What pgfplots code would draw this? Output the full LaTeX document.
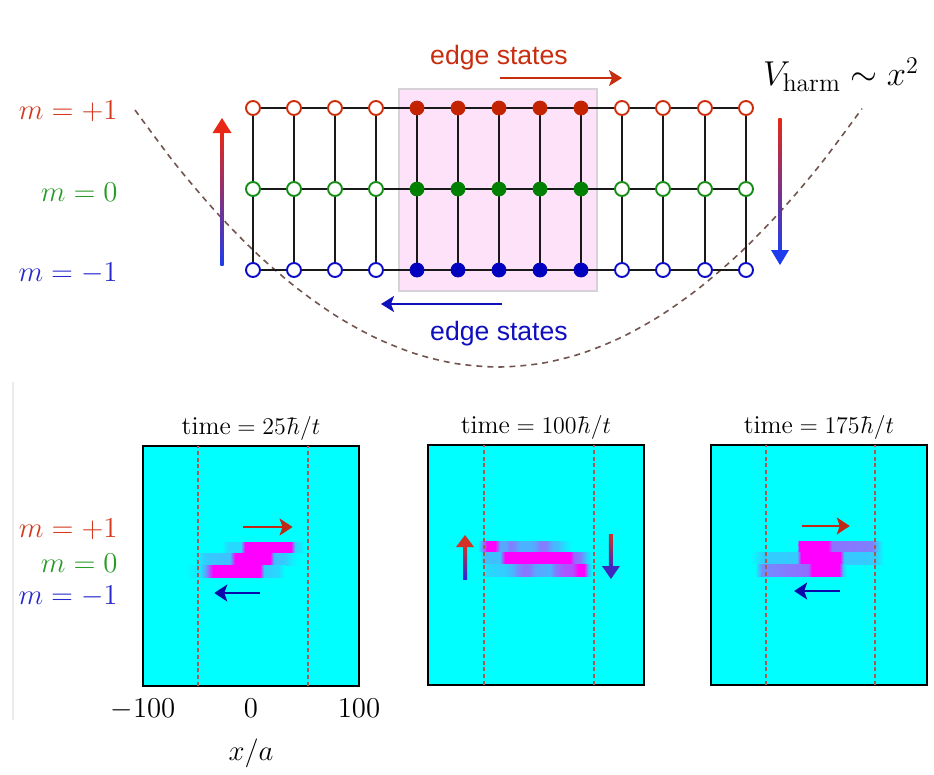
\documentclass[border=0pt]{standalone}
\usepackage{fontspec}
\usepackage{pgfplots}
\pgfplotsset{compat=1.18}
\usetikzlibrary{arrows.meta}
\newfontfamily\edgefont{Liberation Sans}
\newcommand\fs[1]{\fontsize{#1}{#1}\selectfont}

\definecolor{mred}{RGB}{212,58,32}
\definecolor{mgreen}{RGB}{40,155,40}
\definecolor{mblue}{RGB}{40,40,205}
\definecolor{sitered}{RGB}{205,45,10}
\definecolor{sitegreen}{RGB}{20,140,20}
\definecolor{siteblue}{RGB}{10,10,200}
\definecolor{fillred}{RGB}{195,35,0}
\definecolor{fillgreen}{RGB}{0,128,0}
\definecolor{fillblue}{RGB}{0,0,190}
\definecolor{boxpink}{RGB}{254,226,250}
\definecolor{boxedge}{RGB}{215,210,215}
\definecolor{latline}{RGB}{25,25,25}
\definecolor{potbrown}{RGB}{115,85,80}
\definecolor{arrred}{RGB}{232,40,20}
\definecolor{arrblue}{RGB}{30,60,235}
\definecolor{edgered}{RGB}{200,45,15}
\definecolor{edgeblue}{RGB}{15,15,190}
\definecolor{sepdash}{RGB}{170,90,80}
\definecolor{aqua}{RGB}{0,255,255}
\definecolor{pred}{RGB}{190,40,20}
\definecolor{pblue}{RGB}{10,10,170}
\definecolor{uparrred}{RGB}{210,50,40}
\definecolor{uparrblue}{RGB}{40,40,220}
\definecolor{dnarrblue}{RGB}{60,40,190}

\pgfplotsset{
  panel/.style={
    anchor=north west, scale only axis, width=108pt, height=120pt,
    xmin=-100, xmax=100, ymin=-127, ymax=113,
    axis background/.style={fill=aqua},
    axis line style={line width=1.1pt, black},
    xtick=\empty, ytick=\empty,
    title style={font=\fs{12.9}, yshift=-7pt},
    colormap={cool}{rgb255=(0,255,255) rgb255=(255,0,255)},
    point meta min=0, point meta max=1,
  },
  heat/.style={surf, shader=interp, mesh/rows=2, point meta=explicit},
  sep/.style={sepdash, line width=1pt, dash pattern=on 2pt off 1.4pt},
  lattice/.style={latline, line width=1pt, unbounded coords=jump},
  opensite/.style={only marks, mark=*, mark size=3.5pt,
    mark options={fill=white, draw=#1, line width=0.95pt}},
  fullsite/.style={only marks, mark=*, mark size=3.5pt,
    mark options={fill=#1, draw=#1}},
}

\begin{document}
\begin{tikzpicture}
\path (0pt,0pt) rectangle (467pt,-380.5pt);

% ---------------- lattice with harmonic trap ----------------
\begin{axis}[at={(0pt,0pt)}, anchor=north west, scale only axis,
  width=467pt, height=195pt, xmin=0, xmax=934, ymin=0, ymax=390,
  y dir=reverse, hide axis, clip=false]

\addplot[potbrown, line width=0.8pt, dash pattern=on 3pt off 2.5pt, smooth]
  coordinates {(135,110) (175,163.6) (215,210.8) (255,251.9) (295,286.6)
  (335,315.2) (375,337.5) (415,353.6) (455,363.4) (498,367) (541,363.4)
  (581,353.6) (621,337.5) (661,315.2) (701,286.6) (741,251.9) (781,210.8)
  (821,163.6) (862,108.6)};

\fill[boxpink, draw=boxedge, line width=0.6pt] (axis cs:399,89) rectangle (axis cs:597,291);

\addplot[lattice] coordinates {(253,108) (746,108) (nan,nan)
  (253,189) (746,189) (nan,nan) (253,270) (746,270)};
\addplot[lattice] coordinates {(253,108) (253,270) (nan,nan)
  (294,108) (294,270) (nan,nan) (335,108) (335,270) (nan,nan)
  (376,108) (376,270) (nan,nan) (417,108) (417,270) (nan,nan)
  (458,108) (458,270) (nan,nan) (499,108) (499,270) (nan,nan)
  (540,108) (540,270) (nan,nan) (581,108) (581,270) (nan,nan)
  (622,108) (622,270) (nan,nan) (663,108) (663,270) (nan,nan)
  (705,108) (705,270) (nan,nan) (746,108) (746,270)};

\addplot[opensite=sitered] coordinates {(253,108) (294,108) (335,108) (376,108)
  (622,108) (663,108) (705,108) (746,108)};
\addplot[fullsite=fillred] coordinates {(417,108) (458,108) (499,108) (540,108) (581,108)};
\addplot[opensite=sitegreen] coordinates {(253,189) (294,189) (335,189) (376,189)
  (622,189) (663,189) (705,189) (746,189)};
\addplot[fullsite=fillgreen] coordinates {(417,189) (458,189) (499,189) (540,189) (581,189)};
\addplot[opensite=siteblue] coordinates {(253,270) (294,270) (335,270) (376,270)
  (622,270) (663,270) (705,270) (746,270)};
\addplot[fullsite=fillblue] coordinates {(417,270) (458,270) (499,270) (540,270) (581,270)};

\node[anchor=east, inner sep=0pt, text=mred, font=\fs{14}] at (axis cs:118,111) {$m=+1$};
\node[anchor=east, inner sep=0pt, text=mgreen, font=\fs{14}] at (axis cs:118,192) {$m=0$};
\node[anchor=east, inner sep=0pt, text=mblue, font=\fs{14}] at (axis cs:118,273) {$m=-1$};

\node[text=edgered, font=\edgefont\fs{13.3}] at (axis cs:499,58) {edge states};
\draw[edgered, line width=1pt, -{Stealth[length=6.5pt,width=8pt,inset=1.5pt]}]
  (axis cs:500,78) -- (axis cs:622,78);
\node[text=edgeblue, font=\edgefont\fs{13.3}] at (axis cs:499,334) {edge states};
\draw[edgeblue, line width=1pt, -{Stealth[length=6.5pt,width=8pt,inset=1.5pt]}]
  (axis cs:502,304) -- (axis cs:381,304);

\node[font=\fs{18.3}] at (axis cs:841,75) {$V_{\mathrm{harm}}\sim x^2$};

% spin-flip arrows at the two ends of the trap
\shade[top color=arrred, bottom color=arrblue]
  (axis cs:220.3,131) rectangle (axis cs:223.7,265);
\fill[arrred] (axis cs:212.5,133) -- (axis cs:231.5,133) -- (axis cs:222,118) -- cycle;
\shade[top color=arrred, bottom color=arrblue]
  (axis cs:778.3,118) rectangle (axis cs:781.7,252);
\fill[arrblue] (axis cs:771,250) -- (axis cs:789,250) -- (axis cs:780,265) -- cycle;
\end{axis}

\draw[black!8, line width=0.6pt] (6.5pt,-191pt) -- (6.5pt,-360pt);

% ---------------- time evolution panels ----------------
\begin{axis}[panel, at={(71.5pt,-223pt)},
  title={$\mathrm{time}=25\hbar/t$},
  xtick={-100,0,100}, major tick length=0pt,
  tick label style={font=\fs{14}},
  xticklabel style={yshift=-3pt},
  xlabel={$x/a$}, xlabel style={font=\fs{14}, yshift=-2.5pt}]
\addplot[heat] table[meta=c, row sep=\\] {x y c\\
-27 17 0\\ -21.3 17 0.15\\ -9.3 17 0.15\\ -5.6 17 1\\ 37 17 1\\ 40.7 17 0.15\\ 45.4 17 0.1\\ 50 17 0\\
-27 6 0\\ -21.3 6 0.15\\ -9.3 6 0.15\\ -5.6 6 1\\ 37 6 1\\ 40.7 6 0.15\\ 45.4 6 0.1\\ 50 6 0\\};
\addplot[heat] table[meta=c, row sep=\\] {x y c\\
-52 6 0\\ -42.6 6 0.2\\ -19.4 6 0.25\\ -14.8 6 1\\ 17.6 6 1\\ 21.3 6 0.25\\ 31.5 6 0.2\\ 38.9 6 0.05\\ 45.4 6 0\\
-52 -6 0\\ -42.6 -6 0.2\\ -19.4 -6 0.25\\ -14.8 -6 1\\ 17.6 -6 1\\ 21.3 -6 0.25\\ 31.5 -6 0.2\\ 38.9 -6 0.05\\ 45.4 -6 0\\};
\addplot[heat] table[meta=c, row sep=\\] {x y c\\
-61 -6 0\\ -47.2 -6 0.1\\ -41.7 -6 0.4\\ -35.2 -6 1\\ 8.3 -6 1\\ 12 -6 0.2\\ 25 -6 0.15\\ 31.5 -6 0\\
-61 -18 0\\ -47.2 -18 0.1\\ -41.7 -18 0.4\\ -35.2 -18 1\\ 8.3 -18 1\\ 12 -18 0.2\\ 25 -18 0.15\\ 31.5 -18 0\\};
\addplot[sep] coordinates {(-49,-127) (-49,113)};
\addplot[sep] coordinates {(53,-127) (53,113)};
\draw[pred, line width=1pt, -{Stealth[length=6.5pt,width=8.5pt,inset=1.5pt]}]
  (axis cs:-7.4,32) -- (axis cs:38.5,32);
\draw[pblue, line width=1pt, -{Stealth[length=6.5pt,width=8.5pt,inset=1.5pt]}]
  (axis cs:8.3,-34) -- (axis cs:-34,-34);
\end{axis}

\begin{axis}[panel, at={(214pt,-222.5pt)},
  title={$\mathrm{time}=100\hbar/t$}]
\addplot[heat] table[meta=c, row sep=\\] {x y c\\
-53.7 17 0\\ -49.1 17 0.5\\ -45.4 17 1\\ -38 17 1\\ -33.3 17 0.35\\ -27.8 17 0.35\\ -24.1 17 0.5\\ -19.4 17 0.45\\ -14.8 17 0.3\\ -5.6 17 0.3\\ -0.9 17 0.35\\ 3.7 17 0.5\\ 9.3 17 0.5\\ 14.8 17 0.3\\ 20.4 17 0.25\\ 25.9 17 0.12\\ 33.3 17 0\\
-53.7 6 0\\ -49.1 6 0.5\\ -45.4 6 1\\ -38 6 1\\ -33.3 6 0.35\\ -27.8 6 0.35\\ -24.1 6 0.5\\ -19.4 6 0.45\\ -14.8 6 0.3\\ -5.6 6 0.3\\ -0.9 6 0.35\\ 3.7 6 0.5\\ 9.3 6 0.5\\ 14.8 6 0.3\\ 20.4 6 0.25\\ 25.9 6 0.12\\ 33.3 6 0\\};
\addplot[heat] table[meta=c, row sep=\\] {x y c\\
-51.9 6 0\\ -48.1 6 0.25\\ -33.3 6 0.25\\ -28.7 6 1\\ 31.5 6 1\\ 35.2 6 0.6\\ 40.7 6 0.5\\ 46.3 6 0.2\\ 51.9 6 0\\
-51.9 -6 0\\ -48.1 -6 0.25\\ -33.3 -6 0.25\\ -28.7 -6 1\\ 31.5 -6 1\\ 35.2 -6 0.6\\ 40.7 -6 0.5\\ 46.3 -6 0.2\\ 51.9 -6 0\\};
\addplot[heat] table[meta=c, row sep=\\] {x y c\\
-50 -6 0\\ -45.4 -6 0.15\\ -28.7 -6 0.2\\ -21.3 -6 0.3\\ -16.7 -6 0.45\\ -10.2 -6 0.55\\ -5.6 -6 0.5\\ -0.9 -6 0.35\\ 13 -6 0.3\\ 17.6 -6 0.5\\ 25 -6 0.65\\ 34.3 -6 0.7\\ 38.9 -6 1\\ 44.4 -6 1\\ 48.1 -6 0.3\\ 51.9 -6 0\\
-50 -18 0\\ -45.4 -18 0.15\\ -28.7 -18 0.2\\ -21.3 -18 0.3\\ -16.7 -18 0.45\\ -10.2 -18 0.55\\ -5.6 -18 0.5\\ -0.9 -18 0.35\\ 13 -18 0.3\\ 17.6 -18 0.5\\ 25 -18 0.65\\ 34.3 -18 0.7\\ 38.9 -18 1\\ 44.4 -18 1\\ 48.1 -18 0.3\\ 51.9 -18 0\\};
\addplot[sep] coordinates {(-48,-127) (-48,113)};
\addplot[sep] coordinates {(53.5,-127) (53.5,113)};
\shade[top color=uparrred, bottom color=uparrblue]
  ([xshift=-1pt]axis cs:-65.7,-21) rectangle ([xshift=1pt]axis cs:-65.7,12);
\fill[uparrred] ([xshift=-4.5pt]axis cs:-65.7,11) -- ([xshift=4.5pt]axis cs:-65.7,11)
  -- (axis cs:-65.7,23) -- cycle;
\shade[top color=uparrred, bottom color=dnarrblue]
  ([xshift=-1pt]axis cs:69.4,24) rectangle ([xshift=1pt]axis cs:69.4,-9);
\fill[dnarrblue] ([xshift=-4.5pt]axis cs:69.4,-8) -- ([xshift=4.5pt]axis cs:69.4,-8)
  -- (axis cs:69.4,-21) -- cycle;
\end{axis}

\begin{axis}[panel, at={(355.5pt,-222.5pt)},
  title={$\mathrm{time}=175\hbar/t$}]
\addplot[heat] table[meta=c, row sep=\\] {x y c\\
-20.8 17 0\\ -18.1 17 1\\ 8.8 17 1\\ 12.5 17 0.55\\ 49.5 17 0.5\\ 54.2 17 0.2\\ 59.7 17 0\\
-20.8 6 0\\ -18.1 6 1\\ 8.8 6 1\\ 12.5 6 0.55\\ 49.5 6 0.5\\ 54.2 6 0.2\\ 59.7 6 0\\};
\addplot[heat] table[meta=c, row sep=\\] {x y c\\
-62.5 6 0\\ -50.5 6 0.2\\ -20.8 6 0.2\\ -17.1 6 1\\ 19 6 1\\ 22.7 6 0.22\\ 51.4 6 0.2\\ 60.6 6 0\\
-62.5 -6 0\\ -50.5 -6 0.2\\ -20.8 -6 0.2\\ -17.1 -6 1\\ 19 -6 1\\ 22.7 -6 0.22\\ 51.4 -6 0.2\\ 60.6 -6 0\\};
\addplot[heat] table[meta=c, row sep=\\] {x y c\\
-59.7 -6 0\\ -53.2 -6 0.45\\ -10.6 -6 0.58\\ -6.9 -6 1\\ 18.1 -6 1\\ 21.8 -6 0.2\\ 25.5 -6 0\\
-59.7 -18 0\\ -53.2 -18 0.45\\ -10.6 -18 0.58\\ -6.9 -18 1\\ 18.1 -18 1\\ 21.8 -18 0.2\\ 25.5 -18 0\\};
\addplot[sep] coordinates {(-49.5,-127) (-49.5,113)};
\addplot[sep] coordinates {(52.3,-127) (52.3,113)};
\draw[pred, line width=1pt, -{Stealth[length=6.5pt,width=8.5pt,inset=1.5pt]}]
  (axis cs:-16.2,32) -- (axis cs:28.5,32);
\draw[pblue, line width=1pt, -{Stealth[length=6.5pt,width=8.5pt,inset=1.5pt]}]
  (axis cs:19,-33) -- (axis cs:-23,-33);
\end{axis}

\node[anchor=east, inner sep=0pt, text=mred, font=\fs{14}] at (59pt,-264.5pt) {$m=+1$};
\node[anchor=east, inner sep=0pt, text=mgreen, font=\fs{14}] at (59pt,-281.5pt) {$m=0$};
\node[anchor=east, inner sep=0pt, text=mblue, font=\fs{14}] at (59pt,-298pt) {$m=-1$};
\end{tikzpicture}
\end{document}
